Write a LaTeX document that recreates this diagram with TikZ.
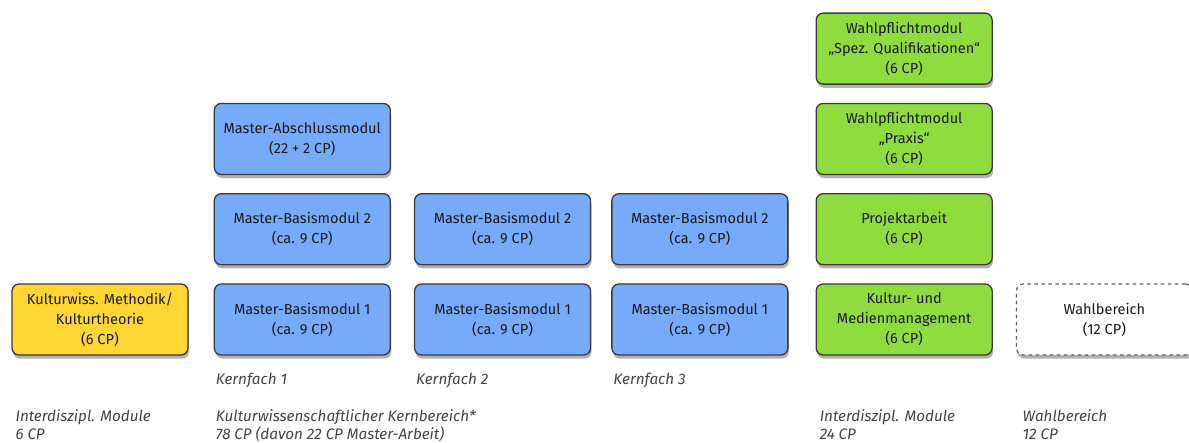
\documentclass[tikz,border=0pt]{standalone}
\usepackage{fontspec}
\setsansfont{Fira Sans}
\definecolor{mablue}{HTML}{78AAFA}
\definecolor{magreen}{HTML}{8EDC3E}
\definecolor{mayellow}{HTML}{FFD633}
\definecolor{maborder}{HTML}{3A3A3A}
\definecolor{matext}{HTML}{1A1A1A}
\definecolor{malabel}{HTML}{444444}
\usetikzlibrary{positioning,shadows}

\begin{document}
\begin{tikzpicture}[
  modul/.style={draw=maborder, fill=#1, line width=1.1pt, rounded corners=6pt,
    font=\sffamily\fontsize{12.4}{17}\selectfont, text=matext,
    minimum width=5.28cm, minimum height=2.13cm, align=center,
    drop shadow={shadow xshift=0.3mm, shadow yshift=-1.1mm, fill=black, opacity=0.3}},
  wahl/.style={modul=white, draw=maborder!80, dashed},
  lbl/.style={font=\sffamily\itshape\fontsize{13}{15.3}\selectfont, text=malabel,
    inner sep=0pt, align=left}
]
  \useasboundingbox (0,0) rectangle (35.67,13.29);

  % Interdisziplinaer links
  \node[modul=mayellow] (methodik) at (3.0,3.705) {Kulturwiss. Methodik/\\Kulturtheorie\\(6 CP)};

  % Kernfaecher
  \node[modul=mablue, right=0.75cm of methodik] (kfa) {Master-Basismodul 1\\(ca. 9 CP)};
  \node[modul=mablue, above=0.54cm of kfa] (kfaz) {Master-Basismodul 2\\(ca. 9 CP)};
  \node[modul=mablue, above=0.54cm of kfaz] (abschluss) {Master-Abschlussmodul\\(22 + 2 CP)};
  \node[modul=mablue, right=0.69cm of kfa] (kfb) {Master-Basismodul 1\\(ca. 9 CP)};
  \node[modul=mablue, above=0.54cm of kfb] (kfbz) {Master-Basismodul 2\\(ca. 9 CP)};
  \node[modul=mablue, right=0.6cm of kfb] (kfc) {Master-Basismodul 1\\(ca. 9 CP)};
  \node[modul=mablue, above=0.54cm of kfc] (kfcz) {Master-Basismodul 2\\(ca. 9 CP)};

  % Interdisziplinaer rechts
  \node[modul=magreen, right=0.81cm of kfc] (medien) {Kultur- und\\Medienmanagement\\(6 CP)};
  \node[modul=magreen, above=0.54cm of medien] (projekt) {Projektarbeit\\(6 CP)};
  \node[modul=magreen, above=0.54cm of projekt] (praxis) {Wahlpflichtmodul\\„Praxis“\\(6 CP)};
  \node[modul=magreen, above=0.54cm of praxis] (spez) {Wahlpflichtmodul\\„Spez. Qualifikationen“\\(6 CP)};

  % Wahlbereich
  \node[wahl, right=0.69cm of medien] (wahlb) {Wahlbereich\\(12 CP)};

  % Kernfach-Beschriftung
  \node[lbl, below=0.52cm of kfa.south west, anchor=north west, xshift=0.06cm] (kfalbl) {Kernfach 1};
  \node[lbl, below=0.52cm of kfb.south west, anchor=north west, xshift=0.06cm] (kfblbl) {Kernfach 2};
  \node[lbl, below=0.52cm of kfc.south west, anchor=north west, xshift=0.06cm] (kfclbl) {Kernfach 3};

  % Bereiche
  \node[lbl, below=1.6cm of methodik.south west, anchor=north west, xshift=0.12cm] (interlinks) {Interdiszipl. Module\\6 CP};
  \node[lbl, below=1.6cm of kfa.south west, anchor=north west, xshift=0.06cm] (kern) {Kulturwissenschaftlicher Kernbereich*\\78 CP (davon 22 CP Master-Arbeit)};
  \node[lbl, below=1.6cm of medien.south west, anchor=north west, xshift=0.12cm] (interrechts) {Interdiszipl. Module\\24 CP};
  \node[lbl, below=1.6cm of wahlb.south west, anchor=north west, xshift=0.2cm] (wahllbl) {Wahlbereich\\12 CP};
\end{tikzpicture}
\end{document}
